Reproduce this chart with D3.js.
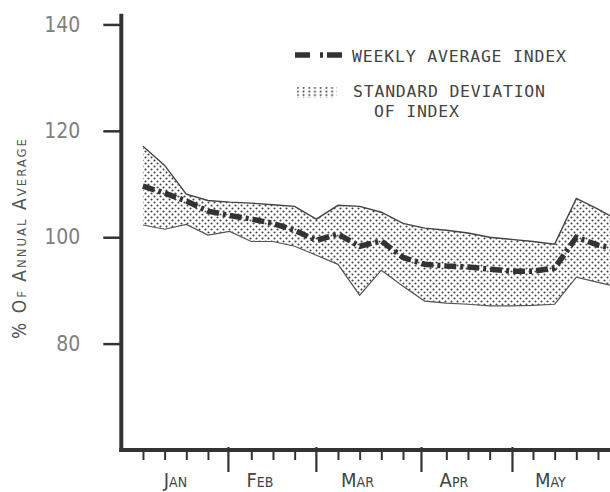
<!DOCTYPE html>
<html>
<head>
<meta charset="utf-8">
<script src="https://cdn.jsdelivr.net/npm/d3@7"></script>
<style>
  body { margin: 0; background: #fff; }
</style>
</head>
<body>
<div id="chart"></div>
<script>
// week index, 0 = first week of January
var weeks = [0, 1, 2, 3, 4, 5, 6, 7, 8, 9, 10, 11, 12, 13, 14, 15, 16, 17, 18, 19, 20, 21, 22]

// weekly average index (% of annual average)
var avgIndex = [109.6, 108.3, 106.8, 104.9, 104.1, 103.4, 102.6, 101.3, 99.4, 100.6, 98.3, 99.3,
                96.2, 94.9, 94.6, 94.4, 94.0, 93.6, 93.6, 94.2, 100.0, 98.5, 97.7]

// upper and lower edge of the standard deviation band
var upperSD = [117.1, 113.5, 108.1, 106.9, 106.6, 106.4, 106.1, 105.8, 103.4, 106.0, 105.8, 104.7,
               102.6, 101.7, 101.3, 100.8, 100.0, 99.6, 99.2, 98.7, 107.3, 105.3, 103.0]
var lowerSD = [102.3, 101.5, 102.4, 100.4, 101.1, 99.2, 99.2, 98.3, 96.6, 94.9, 89.1, 93.8,
               90.8, 88.0, 87.6, 87.4, 87.1, 87.1, 87.2, 87.4, 92.5, 91.5, 90.6]

// axis ticks and labels
var yTicks = [80, 100, 120, 140]
var weekTicks = [0, 1, 2, 3, 5, 6, 7, 9, 10, 11, 12, 14, 15, 16, 18, 19, 20, 21]
var monthTicks = [3.92, 7.98, 12.83, 17.03]
var months = ["Jan", "Feb", "Mar", "Apr", "May"]
var monthLabelPos = [1.5, 5.4, 9.9, 14.35, 18.8]

var width = 610,
    height = 492

var svg = d3.select("#chart")
  .append("svg")
    .attr("width", width)
    .attr("height", height)

var x = d3.scaleLinear().domain([-1, 21]).range([121.3, 598])
var y = d3.scaleLinear().domain([60, 142]).range([450, 13.8])

var data = weeks.map(function(w, i) {
  return {w: w, avg: avgIndex[i], hi: upperSD[i], lo: lowerSD[i]}
})

var narrowFont = "'Liberation Sans Narrow', 'DejaVu Sans Condensed', sans-serif"
var legendFont = "'DejaVu Sans Mono', 'Liberation Mono', monospace"

// stipple pattern for the band
var defs = svg.append("defs")
var dots = defs.append("pattern")
    .attr("id", "dots")
    .attr("patternUnits", "userSpaceOnUse")
    .attr("width", 6)
    .attr("height", 6)
dots.append("circle").attr("cx", 1.5).attr("cy", 1.5).attr("r", 1.05).attr("fill", "#444")
dots.append("circle").attr("cx", 4.5).attr("cy", 4.5).attr("r", 1.05).attr("fill", "#444")

var legendDots = defs.append("pattern")
    .attr("id", "legdots")
    .attr("patternUnits", "userSpaceOnUse")
    .attr("width", 5.7)
    .attr("height", 3.6)
legendDots.append("circle").attr("cx", 1.5).attr("cy", 1.5).attr("r", 1.0).attr("fill", "#444")

// band
var area = d3.area()
  .x(function(d) { return x(d.w) })
  .y0(function(d) { return y(d.lo) })
  .y1(function(d) { return y(d.hi) })

svg.append("path")
  .datum(data)
  .attr("d", area)
  .attr("fill", "url(#dots)")

var upperLine = d3.line().x(function(d) { return x(d.w) }).y(function(d) { return y(d.hi) })
var lowerLine = d3.line().x(function(d) { return x(d.w) }).y(function(d) { return y(d.lo) })

svg.append("path").datum(data).attr("d", upperLine)
  .attr("fill", "none").attr("stroke", "#444").attr("stroke-width", 1.4)
svg.append("path").datum(data).attr("d", lowerLine)
  .attr("fill", "none").attr("stroke", "#555").attr("stroke-width", 1.2)

// weekly average, dash-dot
var avgLine = d3.line().x(function(d) { return x(d.w) }).y(function(d) { return y(d.avg) })
svg.append("path").datum(data).attr("d", avgLine)
  .attr("fill", "none")
  .attr("stroke", "#333")
  .attr("stroke-width", 5.5)
  .attr("stroke-dasharray", "12,4,3,4")

// y axis
var yAxis = svg.append("g")
  .attr("transform", "translate(" + x(-1) + ",0)")
  .call(d3.axisLeft(y).tickValues(yTicks).tickSize(18).tickSizeOuter(0).tickPadding(23))
yAxis.select(".domain").remove()
yAxis.selectAll(".tick line").attr("stroke", "#333").attr("stroke-width", 2.5)
yAxis.selectAll(".tick text")
  .attr("fill", "#808080")
  .style("font-family", narrowFont)
  .style("font-size", "21px")

// x axis: weekly ticks and month ticks
var xWeek = svg.append("g")
  .attr("transform", "translate(0," + y(60) + ")")
  .call(d3.axisBottom(x).tickValues(weekTicks).tickSize(10).tickSizeOuter(0).tickFormat(""))
xWeek.select(".domain").remove()
xWeek.selectAll(".tick line").attr("stroke", "#333").attr("stroke-width", 2)

var xMonth = svg.append("g")
  .attr("transform", "translate(0," + (y(60) - 3) + ")")
  .call(d3.axisBottom(x).tickValues(monthTicks).tickSize(25).tickSizeOuter(0).tickFormat(""))
xMonth.select(".domain").remove()
xMonth.selectAll(".tick line").attr("stroke", "#333").attr("stroke-width", 2.2)

// heavy axis lines
svg.append("line")
  .attr("x1", x(-1)).attr("x2", x(-1))
  .attr("y1", y(142)).attr("y2", y(60) + 2)
  .attr("stroke", "#333").attr("stroke-width", 4)
svg.append("line")
  .attr("x1", x(-1) - 2).attr("x2", width)
  .attr("y1", y(60)).attr("y2", y(60))
  .attr("stroke", "#333").attr("stroke-width", 4)

// month labels
svg.selectAll("monthLabels")
  .data(months)
  .enter()
  .append("text")
    .attr("x", function(d, i) { return x(monthLabelPos[i]) })
    .attr("y", 487)
    .attr("text-anchor", "middle")
    .attr("fill", "#444")
    .style("font-family", narrowFont)
    .style("font-size", "20px")
    .style("font-variant", "small-caps")
    .text(function(d) { return d })

// y axis title
svg.append("text")
  .attr("transform", "translate(26,239) rotate(-90)")
  .attr("text-anchor", "middle")
  .attr("fill", "#555")
  .attr("textLength", 200)
  .attr("lengthAdjust", "spacing")
  .style("font-family", narrowFont)
  .style("font-size", "19px")
  .style("font-variant", "small-caps")
  .text("% Of Annual Average")

// legend
svg.append("path")
  .attr("d", "M295,55H342")
  .attr("stroke", "#333")
  .attr("stroke-width", 5.5)
  .attr("stroke-dasharray", "15,10,3,4,15")
svg.append("text")
  .attr("x", 352).attr("y", 62)
  .attr("fill", "#444")
  .attr("textLength", 214)
  .style("font-family", legendFont).style("font-size", "16.5px")
  .text("WEEKLY AVERAGE INDEX")

svg.append("rect")
  .attr("x", 297).attr("y", 87).attr("width", 40).attr("height", 11)
  .attr("fill", "url(#legdots)")

svg.append("text")
  .attr("x", 353).attr("y", 97)
  .attr("fill", "#444")
  .attr("textLength", 192)
  .style("font-family", legendFont).style("font-size", "16.5px")
  .text("STANDARD DEVIATION")
svg.append("text")
  .attr("x", 374).attr("y", 116.5)
  .attr("fill", "#444")
  .attr("textLength", 85)
  .style("font-family", legendFont).style("font-size", "16.5px")
  .text("OF INDEX")
</script>
</body>
</html>
